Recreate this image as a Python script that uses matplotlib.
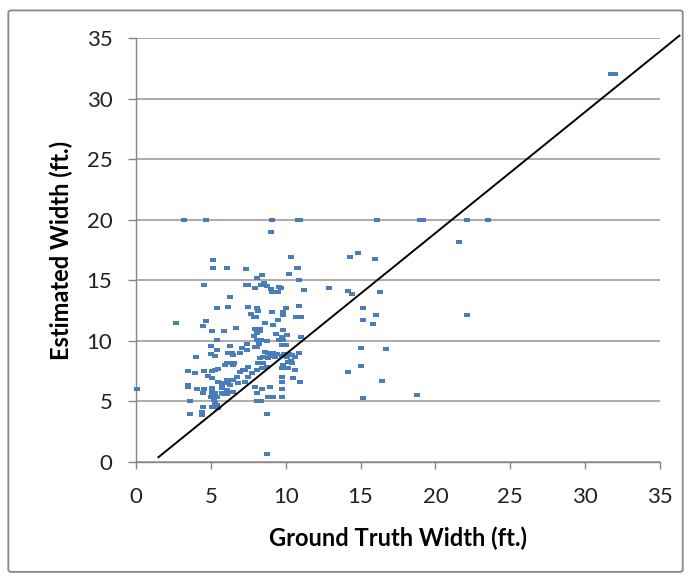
import matplotlib
matplotlib.use("Agg")
import matplotlib.pyplot as plt
from matplotlib.patches import FancyBboxPatch

# Ground-truth vs. estimated road widths (feet)
ground_truth = [
    3.2, 4.7, 9.1, 10.8, 10.95, 16.1, 19.0, 19.15, 22.1, 23.5,
    31.75, 32.0, 21.6, 22.1, 18.75,
    9.0, 5.15, 5.15, 6.1, 10.35, 7.35, 8.05, 8.45, 10.25, 10.75, 10.85, 10.9,
    4.55, 7.35, 7.45, 7.95, 8.35, 8.55, 8.75, 9.0, 9.1, 9.5, 9.55, 9.7, 11.2, 12.9,
    6.3, 5.4, 6.15, 7.45, 8.1, 8.15, 7.7, 7.85, 8.0, 9.1, 9.8, 9.8, 10.0, 10.9,
    10.7, 11.0, 9.5, 8.65, 9.15, 2.65, 4.65, 4.45, 6.7, 7.95, 8.3,
    14.3, 14.85, 15.95, 14.15, 14.4, 16.3, 15.15, 16.05, 15.15, 15.85, 11.05,
    15.05, 16.7, 10.9, 15.05, 14.15, 10.6, 16.45, 10.95, 15.15,
    5.05, 5.85, 8.3, 9.35, 7.9, 8.35, 8.75, 5.4, 9.75, 9.85, 9.75, 10.05,
    5.0, 6.3, 5.4, 7.4, 7.4, 8.1, 6.4, 6.95, 5.0, 5.25, 4.0, 6.05, 6.55, 7.45, 7.15,
    9.4, 9.9, 10.25, 10.35, 9.75, 9.75, 3.5, 3.95, 4.55, 5.3, 5.45, 3.5, 3.5,
    4.1, 4.55, 5.05, 5.1, 0.05, 3.6, 3.6, 4.45, 4.4, 5.45, 5.2, 5.85, 6.1,
    8.05, 8.35, 8.85, 9.15, 9.75, 9.75, 8.4, 8.75, 8.75,
    8.1, 9.84, 10.07, 9.57, 8.05, 8.24, 7.95, 7.06, 6.17, 6.5,
    8.62, 8.84, 9.17, 8.5, 8.95, 9.29, 9.73, 10.07, 10.4, 10.62, 8.28,
    6.17, 6.5, 5.95, 8.84, 8.17, 8.5, 8.4, 8.73, 8.06, 7.73, 7.3, 6.95, 7.5,
    6.73, 6.5, 6.06, 5.83, 6.28, 6.83, 7.28, 5.72, 6.06, 6.5, 5.95,
    10.17, 10.4, 9.8, 10.17, 10.5, 9.73, 8.95, 8.06, 7.95,
    5.05, 4.83, 5.06, 5.5, 5.72, 6.15, 4.46, 5.06, 5.28, 4.99, 5.39, 5.72,
    5.28, 5.39, 5.06, 4.4,
]
estimated = [
    20, 20, 20, 20, 20, 20, 20, 20, 20, 20,
    32, 32, 18.2, 12.1, 5.5,
    19.0, 16.7, 16.0, 16.0, 16.9, 15.9, 15.2, 15.4, 15.5, 16.0, 16.0, 15.0,
    14.6, 14.6, 14.6, 14.4, 14.6, 14.8, 14.5, 14.3, 14.05, 14.05, 14.45, 14.4, 14.2, 14.4,
    13.65, 12.7, 12.8, 12.8, 12.7, 12.5, 12.2, 12.0, 12.0, 12.4, 12.4, 12.1, 12.7, 12.9,
    12.0, 12.0, 11.7, 11.5, 11.3, 11.45, 11.65, 11.2, 11.1, 11.0, 10.95,
    16.9, 17.25, 16.8, 14.1, 13.85, 14.0, 12.7, 12.15, 11.75, 11.4, 10.35,
    9.45, 9.3, 9.0, 7.95, 7.4, 7.6, 6.7, 6.6, 5.3,
    10.8, 10.8, 10.85, 10.6, 10.4, 10.05, 9.95, 10.05, 10.3, 10.05, 9.7, 9.65,
    9.6, 9.6, 9.25, 9.75, 9.25, 9.5, 9.0, 9.0, 8.95, 8.75, 8.7, 8.15, 8.2, 7.85, 7.6,
    8.95, 8.95, 8.95, 8.3, 7.75, 7.05, 7.5, 7.35, 7.5, 7.6, 7.65, 6.4, 6.2,
    6.05, 6.05, 6.15, 5.6, 6.0, 5.0, 4.0, 4.55, 3.9, 4.45, 5.1, 5.65, 5.6,
    5.0, 5.0, 5.4, 5.4, 5.4, 6.05, 6.0, 4.0, 0.7,
    10.62, 10.9, 10.48, 10.07, 10.1, 9.74, 9.52, 9.39, 8.97, 8.83,
    9.1, 9.02, 8.97, 8.69, 8.75, 8.69, 8.75, 8.64, 8.83, 8.64, 8.56,
    8.15, 8.0, 8.0, 8.56, 8.15, 8.2, 7.73, 7.87, 7.59, 7.32, 7.6, 7.45, 7.04,
    7.04, 6.77, 6.77, 6.5, 6.36, 6.5, 6.63, 6.08, 5.94, 5.8, 5.67,
    8.28, 8.15, 8.0, 7.73, 6.9, 6.63, 6.22, 5.67, 6.22,
    7.55, 7.1, 6.91, 6.63, 6.36, 6.5, 5.67, 5.8, 5.72, 5.39, 5.39, 5.67,
    4.85, 4.7, 4.56, 4.1,
]

# Reference line drawn across the chart
ref_line_x = [1.5, 36.3]
ref_line_y = [0.4, 35.2]

x_ticks = [0, 5, 10, 15, 20, 25, 30, 35]
y_ticks = [0, 5, 10, 15, 20, 25, 30, 35]

font = "Lato"
axis_gray = "#868686"
grid_gray = "#a6a6a6"
point_blue = "#4a7ebb"

fig = plt.figure(figsize=(6.91, 5.80), dpi=100)
fig.patch.set_facecolor("white")

# Chart-area frame
frame = FancyBboxPatch((0.012, 0.014), 0.976, 0.968,
                       boxstyle="round,pad=0,rounding_size=0.004",
                       transform=fig.transFigure, facecolor="none",
                       edgecolor=axis_gray, linewidth=1.3)
fig.patches.append(frame)

ax = fig.add_axes([0.1968, 0.2034, 0.7583, 0.7310])
ax.set_xlim(0, 35)
ax.set_ylim(0, 35)

ax.set_axisbelow(True)
ax.yaxis.grid(True, color=grid_gray, linewidth=1.3)
ax.xaxis.grid(False)

for side in ("top", "right"):
    ax.spines[side].set_visible(False)
for side in ("left", "bottom"):
    ax.spines[side].set_color(axis_gray)
    ax.spines[side].set_linewidth(1.0)

ax.set_xticks(x_ticks)
ax.set_yticks(y_ticks)
ax.tick_params(axis="x", direction="out", length=5, width=1.0, color=axis_gray,
               pad=13, labelsize=16, labelcolor="#222222")
ax.tick_params(axis="y", direction="out", length=6, width=1.0, color=axis_gray,
               pad=11, labelsize=16, labelcolor="#222222")
for lbl in ax.get_xticklabels() + ax.get_yticklabels():
    lbl.set_fontfamily(font)

rect_marker = [(-1, -0.62), (1, -0.62), (1, 0.62), (-1, 0.62), (-1, -0.62)]
ax.plot(ground_truth, estimated, linestyle="none", marker=rect_marker,
        markersize=4.2, color=point_blue, markeredgewidth=0, zorder=3,
        clip_on=False)

ax.plot(ref_line_x, ref_line_y, color="black", linewidth=1.4, zorder=4,
        clip_on=False)

ax.set_xlabel("Ground Truth Width (ft.)", fontsize=17, fontweight="bold",
              fontfamily=font, va="center")
ax.set_ylabel("Estimated Width (ft.)", fontsize=17, fontweight="bold",
              fontfamily=font, va="center")
ax.xaxis.set_label_coords(0.5, -0.179)
ax.yaxis.set_label_coords(-0.143, 0.5)

fig.savefig("out.png", dpi=100, facecolor="white")
